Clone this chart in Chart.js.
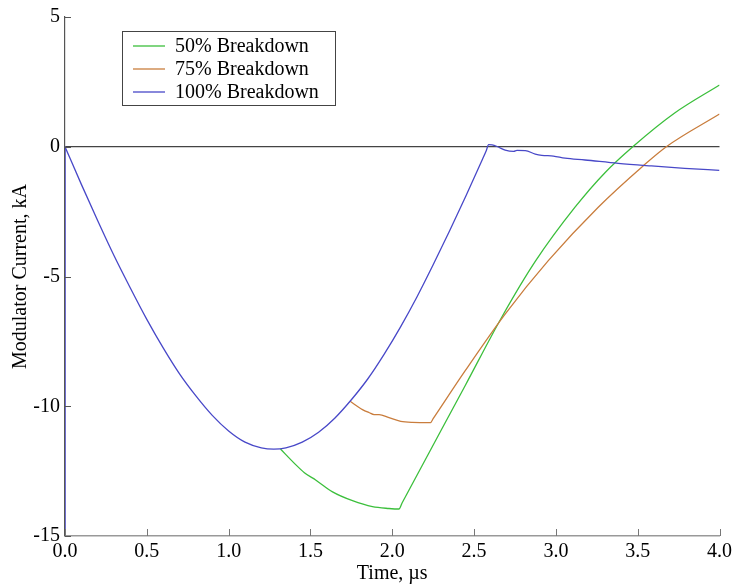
<!DOCTYPE html>
<html>
<head>
<meta charset="utf-8">
<script src="https://cdn.jsdelivr.net/npm/chart.js@4/dist/chart.umd.min.js"></script>
<style>
html,body{margin:0;padding:0;background:#fff;}
#wrap{width:736px;height:588px;}
</style>
</head>
<body>
<div id="wrap"><canvas id="c" width="736" height="588"></canvas></div>
<script>
// ---- data ----
const seriesLabels = ['50% Breakdown', '75% Breakdown', '100% Breakdown'];
const seriesColors = ['#3cbf3c', '#c97d3d', '#4848c8'];
const xTickValues = [0, 0.5, 1.0, 1.5, 2.0, 2.5, 3.0, 3.5, 4.0];
const yTickValues = [-15, -10, -5, 0, 5];

const greenT = [1.317, 1.402, 1.463, 1.534, 1.635, 1.757, 1.879, 1.98, 2.041, 2.06, 2.447, 2.67, 2.874, 3.117, 3.3, 3.47, 3.726, 4.0];
const greenV = [-11.65, -12.2, -12.56, -12.85, -13.3, -13.64, -13.87, -13.94, -13.96, -13.73, -9.19, -6.56, -4.42, -2.33, -1.0, 0.0, 1.3, 2.38];

const orangeT = [1.743, 1.818, 1.86, 1.889, 1.92, 1.98, 2.052, 2.122, 2.234, 2.25, 2.447, 2.691, 2.955, 3.259, 3.533, 3.675, 4.0];
const orangeV = [-9.81, -10.13, -10.25, -10.32, -10.32, -10.44, -10.58, -10.62, -10.63, -10.48, -8.62, -6.44, -4.38, -2.33, -0.74, 0.0, 1.26];

const blueT = [0, 0.1, 0.2, 0.3, 0.4, 0.5, 0.6, 0.7, 0.8, 0.9, 1.0, 1.1, 1.2, 1.276,
  1.35, 1.45, 1.55, 1.65, 1.75, 1.85, 1.95, 2.05, 2.15, 2.25, 2.35, 2.45, 2.55, 2.575, 2.589,
  2.61, 2.64, 2.69, 2.742, 2.762, 2.813, 2.874, 2.914, 2.985, 3.056, 3.178, 3.381, 3.584, 3.787, 4.0];
const blueV = [0, -1.45, -2.85, -4.2, -5.45, -6.65, -7.75, -8.75, -9.6, -10.35, -10.95, -11.38, -11.6, -11.65,
  -11.6, -11.38, -11.0, -10.45, -9.75, -8.95, -8.0, -6.95, -5.8, -4.55, -3.25, -1.9, -0.5, -0.14, 0.08,
  0.07, 0.01, -0.13, -0.18, -0.14, -0.15, -0.28, -0.33, -0.36, -0.44, -0.51, -0.64, -0.74, -0.83, -0.91];

// blue trace also runs down the left edge at t = 0
const blueEdgeT = [0, 0];
const blueEdgeV = [-15, 0];

const toPts = (t, v) => t.map((x, i) => ({x: x, y: v[i]}));

const FONT = "'Liberation Serif', 'Times New Roman', serif";

const insidePlugin = {
  id: 'inside',
  afterDraw(chart) {
    const ctx = chart.ctx;
    const xs = chart.scales.x, ys = chart.scales.y;
    const area = chart.chartArea;
    ctx.save();
    // inward ticks
    ctx.lineWidth = 1;
    ctx.strokeStyle = '#777';
    xTickValues.forEach(v => {
      const px = Math.round(xs.getPixelForValue(v)) + 0.5;
      ctx.beginPath(); ctx.moveTo(px, area.bottom); ctx.lineTo(px, area.bottom - 7); ctx.stroke();
    });
    ctx.strokeStyle = '#555';
    yTickValues.forEach(v => {
      const py = Math.round(ys.getPixelForValue(v)) + 0.5;
      ctx.beginPath(); ctx.moveTo(area.left, py); ctx.lineTo(area.left + 6, py); ctx.stroke();
    });
    // legend box
    const bx = 122.5, by = 31.5, bw = 213, bh = 74;
    ctx.fillStyle = '#fff';
    ctx.fillRect(bx, by, bw, bh);
    ctx.strokeStyle = '#444';
    ctx.lineWidth = 1;
    ctx.strokeRect(bx, by, bw, bh);
    ctx.font = '20px ' + FONT;
    ctx.textBaseline = 'middle';
    ctx.textAlign = 'left';
    const rows = [46, 69, 92];
    seriesLabels.forEach((lab, i) => {
      ctx.strokeStyle = seriesColors[i];
      ctx.lineWidth = 1.3;
      ctx.beginPath(); ctx.moveTo(133, rows[i]); ctx.lineTo(165, rows[i]); ctx.stroke();
      ctx.fillStyle = '#000';
      ctx.fillText(lab, 175, rows[i] + 1);
    });
    ctx.restore();
  }
};

const common = {
  fill: false,
  pointRadius: 0,
  borderWidth: 1.3,
  cubicInterpolationMode: 'monotone'
};

new Chart(document.getElementById('c'), {
  type: 'line',
  data: {
    datasets: [
      Object.assign({label: seriesLabels[0], data: toPts(greenT, greenV), borderColor: seriesColors[0], order: 3}, common),
      Object.assign({label: seriesLabels[1], data: toPts(orangeT, orangeV), borderColor: seriesColors[1], order: 2}, common),
      Object.assign({label: seriesLabels[2], data: toPts(blueT, blueV), borderColor: seriesColors[2], order: 1}, common),
      {label: '', data: toPts(blueEdgeT, blueEdgeV), borderColor: seriesColors[2], borderWidth: 1.5, pointRadius: 0, tension: 0, order: 0}
    ]
  },
  options: {
    responsive: false,
    animation: false,
    devicePixelRatio: 1,
    layout: {padding: {top: 16, right: 14, left: 0, bottom: 0}},
    plugins: {legend: {display: false}, tooltip: {enabled: false}},
    scales: {
      x: {
        type: 'linear', min: 0, max: 4,
        afterBuildTicks: s => { s.ticks = xTickValues.map(v => ({value: v})); },
        afterFit: s => { s.height = 52; },
        ticks: {
          callback: v => Number(v).toFixed(1),
          font: {family: FONT, size: 20}, color: '#000', padding: 4, maxRotation: 0, autoSkip: false
        },
        grid: {display: true, drawOnChartArea: false, drawTicks: false},
        border: {display: true, color: '#999', width: 1.5},
        title: {display: true, text: 'Time, µs', font: {family: FONT, size: 20}, color: '#000', padding: {top: 0, bottom: 2}}
      },
      y: {
        type: 'linear', min: -15, max: 5,
        afterBuildTicks: s => { s.ticks = yTickValues.map(v => ({value: v})); },
        afterFit: s => { s.width = 65; },
        ticks: {
          font: {family: FONT, size: 20}, color: '#000', padding: 5, autoSkip: false
        },
        grid: {
          display: true, drawTicks: false,
          color: c => (c.tick && c.tick.value === 0) ? '#444' : 'rgba(0,0,0,0)',
          lineWidth: 1.2
        },
        border: {display: true, color: '#555', width: 1.2},
        title: {display: true, text: 'Modulator Current, kA', font: {family: FONT, size: 20}, color: '#000', padding: {top: 9, bottom: 0}}
      }
    }
  },
  plugins: [insidePlugin]
});
</script>
</body>
</html>
